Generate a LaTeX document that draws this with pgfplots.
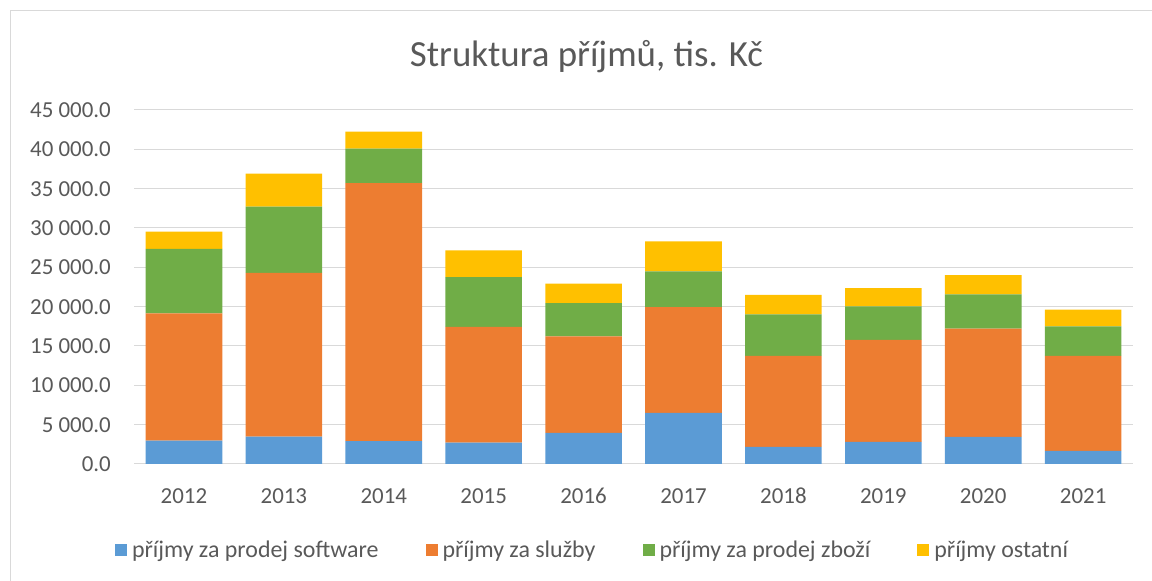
\documentclass[border=0pt]{standalone}
\usepackage{fontspec}
\setmainfont{Carlito}
\usepackage{pgfplots}
\pgfplotsset{compat=1.18}
\definecolor{cBlue}{HTML}{5B9BD5}
\definecolor{cOrange}{HTML}{ED7D31}
\definecolor{cGreen}{HTML}{70AD47}
\definecolor{cYellow}{HTML}{FFC000}
\definecolor{gridc}{HTML}{D9D9D9}
\definecolor{textc}{HTML}{595959}

\begin{document}
\begin{tikzpicture}[x=1bp,y=1bp]
\path[use as bounding box] (0,0) rectangle (1152,581);
\draw[color=gridc, line width=1bp] (10.5,0) -- (10.5,570.5) -- (1152,570.5);
\node[anchor=base, text=textc, font=\fontsize{37}{41}\selectfont] at (586.5,514) {Struktura příjmů, tis. Kč};
\begin{axis}[
  at={(134bp,117bp)}, anchor=south west,
  width=999bp, height=354bp, scale only axis,
  ybar stacked, bar width=76.6bp,
  xmin=-0.5, xmax=9.5, ymin=0, ymax=45000,
  xtick={0,...,9},
  xticklabels={2012,2013,2014,2015,2016,2017,2018,2019,2020,2021},
  ytick={0,5000,...,45000},
  scaled y ticks=false,
  axis line style={draw=none},
  major tick length=0pt,
  ymajorgrids, grid style={color=gridc, line width=1bp},
  tick label style={font=\fontsize{23}{27}\selectfont, text=textc},
  yticklabel style={inner sep=0pt, anchor=east, xshift=-23bp,
    /pgf/number format/.cd, fixed, fixed zerofill, precision=1, 1000 sep={\ }, assume math mode=true},
  xticklabel style={inner sep=0pt, anchor=north, yshift=-24bp},
  legend columns=4,
  legend style={at={(-0.0192,-0.243)}, anchor=west, draw=none, fill=none,
    inner xsep=0pt, inner ysep=0pt,
    font=\fontsize{24}{28}\selectfont, text=textc,
    nodes={inner sep=0pt},
    /tikz/every odd column/.append style={column sep=5bp},
    /tikz/every even column/.append style={column sep=47bp}},
  legend image code/.code={\fill[#1] (0bp,-6bp) rectangle (12bp,6bp);},
]
\addplot[fill=cBlue, draw=none] coordinates {(0,2964) (1,3472) (2,2921) (3,2710) (4,3940) (5,6483) (6,2161) (7,2796) (8,3432) (9,1652)};
\addplot[fill=cOrange, draw=none] coordinates {(0,16173) (1,20831) (2,32771) (3,14734) (4,12288) (5,13473) (6,11567) (7,12966) (8,13770) (9,12076)};
\addplot[fill=cGreen, draw=none] coordinates {(0,8213) (1,8425) (2,4404) (3,6309) (4,4237) (5,4534) (6,5296) (7,4279) (8,4364) (9,3771)};
\addplot[fill=cYellow, draw=none] coordinates {(0,2200) (1,4192) (2,2159) (3,3387) (4,2457) (5,3813) (6,2458) (7,2330) (8,2458) (9,2118)};
\legend{příjmy za prodej software, příjmy za služby, příjmy za prodej zboží, příjmy ostatní}
\end{axis}
\end{tikzpicture}
\end{document}
